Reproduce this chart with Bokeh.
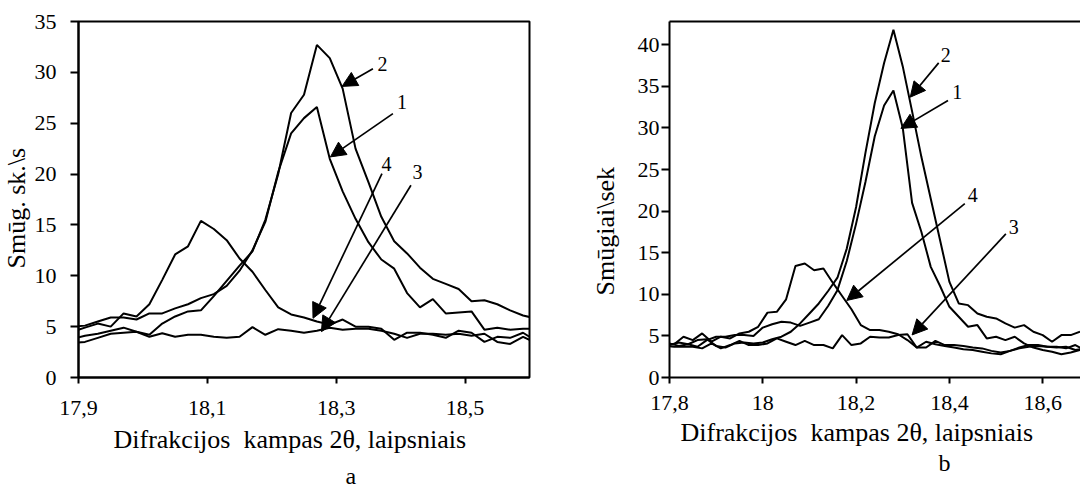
from bokeh.plotting import figure
from bokeh.layouts import row
from bokeh.models import FixedTicker, Label, Arrow, NormalHead, LinearAxis, Title
from bokeh.embed import file_html
from bokeh.resources import INLINE

FONT = "Liberation Serif"

# ---------------- chart a ----------------
xa = [17.89, 17.91, 17.93, 17.95, 17.97, 17.99, 18.01, 18.03, 18.05, 18.07,
      18.09, 18.11, 18.13, 18.15, 18.17, 18.19, 18.21, 18.23, 18.25, 18.27,
      18.29, 18.31, 18.33, 18.35, 18.37, 18.39, 18.41, 18.43, 18.45, 18.47,
      18.49, 18.51, 18.53, 18.55, 18.57, 18.59, 18.61]
a1 = [5.0, 5.1, 5.5, 5.9, 5.9, 5.7, 6.3, 6.3, 6.8, 7.2, 7.8, 8.2, 9.0, 10.5, 12.5,
      15.3, 20.2, 24.0, 25.5, 26.6, 21.5, 18.3, 15.6, 13.3, 11.6, 10.7, 8.3, 6.9,
      7.7, 6.3, 6.4, 6.5, 4.7, 4.9, 4.7, 4.8, 4.8]
a2 = [3.8, 4.1, 4.3, 4.6, 4.9, 4.5, 4.2, 5.3, 6.0, 6.5, 6.6, 8.0, 9.5, 11.0, 12.4,
      15.5, 20.0, 26.0, 27.8, 32.7, 31.4, 28.4, 22.5, 19.2, 15.8, 13.4, 12.2, 10.8,
      9.7, 9.2, 8.7, 7.5, 7.6, 7.2, 6.6, 6.1, 5.8]
a3 = [3.4, 3.5, 3.9, 4.3, 4.4, 4.5, 4.0, 4.35, 4.0, 4.2, 4.2, 4.0, 3.9, 4.0, 4.95,
      4.2, 4.75, 4.6, 4.4, 4.6, 4.9, 4.7, 4.8, 4.8, 4.6, 4.3, 3.9, 4.3, 4.3, 4.2,
      4.3, 4.1, 4.3, 3.5, 3.3, 4.0, 3.4]
a4 = [4.5, 4.9, 5.3, 5.0, 6.3, 6.0, 7.2, 9.6, 12.1, 12.9, 15.4, 14.6, 13.5, 11.7,
      10.4, 8.6, 6.9, 6.2, 5.9, 5.5, 5.2, 5.7, 5.0, 5.0, 4.8, 3.7, 4.4, 4.4, 4.2,
      3.9, 4.6, 4.4, 3.5, 4.0, 3.9, 4.4, 3.6]
xa_ticks = [17.9, 18.1, 18.3, 18.5]
xa_tick_labels = ["17,9", "18,1", "18,3", "18,5"]
ya_ticks = [0, 5, 10, 15, 20, 25, 30, 35]
a_ylabel = "Smūg. sk.\\s"
a_caption = "a"

# arrows: (label, label_x, label_y, x_start, y_start, x_end, y_end)
a_arrows = [
    ("2", 18.372, 30.85, 18.357, 30.35, 18.309, 28.62),
    ("1", 18.402, 27.08, 18.388, 25.94, 18.291, 21.69),
    ("4", 18.378, 21.03, 18.371, 20.05, 18.264, 5.82),
    ("3", 18.426, 20.20, 18.416, 18.90, 18.277, 4.51),
]

# ---------------- chart b ----------------
xb_even = [17.80, 17.82, 17.84, 17.86, 17.88, 17.90, 17.92, 17.94, 17.96, 17.98,
           18.00, 18.02, 18.04, 18.06, 18.08, 18.10, 18.12, 18.14, 18.16, 18.18,
           18.20, 18.22, 18.24, 18.26, 18.28, 18.30, 18.32, 18.34, 18.36, 18.38,
           18.40, 18.42, 18.44, 18.46, 18.48, 18.50, 18.52, 18.54, 18.56, 18.58,
           18.60, 18.62, 18.64, 18.66, 18.68]
xb_odd = [17.79, 17.81, 17.83, 17.85, 17.87, 17.89, 17.91, 17.93, 17.95, 17.97,
          17.99, 18.01, 18.03, 18.05, 18.07, 18.09, 18.11, 18.13, 18.15, 18.17,
          18.19, 18.21, 18.23, 18.25, 18.27, 18.29, 18.31, 18.33, 18.35, 18.37,
          18.39, 18.41, 18.43, 18.45, 18.47, 18.49, 18.51, 18.53, 18.55, 18.57,
          18.59, 18.61, 18.63, 18.65, 18.67, 18.69]
b1 = [4.1, 3.8, 4.0, 3.7, 4.5, 4.9, 4.9, 5.1, 5.1, 5.0, 6.0, 6.4, 6.7, 6.6, 6.2,
      6.6, 7.0, 8.6, 10.5, 14.0, 18.5, 23.5, 29.0, 32.7, 34.5, 30.0, 21.0, 17.5,
      13.3, 11.0, 8.5, 7.3, 6.1, 6.3, 4.7, 4.9, 4.5, 4.9, 4.1, 3.6, 3.3, 3.1, 2.8,
      3.0, 3.3]
b2 = [3.9, 4.2, 4.0, 4.5, 4.6, 3.8, 3.6, 4.1, 4.2, 4.1, 4.2, 4.6, 4.9, 5.5, 6.5,
      7.7, 8.9, 10.4, 12.0, 15.5, 20.5, 27.0, 33.0, 37.8, 41.8, 37.4, 32.0, 26.5,
      21.5, 16.5, 11.5, 8.9, 8.7, 7.7, 7.3, 7.1, 6.5, 6.0, 6.3, 5.5, 5.1, 4.3, 5.1,
      5.1, 5.5]
b3 = [3.8, 3.7, 3.7, 3.7, 3.5, 4.1, 3.5, 3.9, 4.4, 3.9, 3.9, 4.1, 4.7, 4.3, 3.9,
      4.4, 3.9, 3.9, 3.5, 5.1, 3.9, 4.1, 4.9, 4.8, 4.8, 5.1, 5.2, 3.6, 4.3, 4.0,
      3.8, 3.6, 3.4, 3.3, 3.1, 2.9, 2.8, 3.2, 3.6, 3.9, 3.9, 3.7, 3.7, 3.5, 3.9, 3.3]
b4 = [4.0, 4.0, 4.9, 4.5, 5.3, 4.3, 4.9, 4.7, 5.3, 5.5, 6.1, 7.8, 7.9, 9.4, 13.4,
      13.7, 12.9, 13.1, 11.4, 9.8, 8.2, 6.3, 5.7, 5.7, 5.5, 5.2, 4.5, 3.6, 3.6, 4.4,
      3.9, 3.9, 3.8, 3.6, 3.5, 3.2, 3.0, 3.2, 3.5, 3.7, 3.8, 3.7, 3.6, 3.7, 3.3, 3.5]
xb_ticks = [17.8, 18.0, 18.2, 18.4, 18.6]
xb_tick_labels = ["17,8", "18", "18,2", "18,4", "18,6"]
yb_ticks = [0, 5, 10, 15, 20, 25, 30, 35, 40]
b_ylabel = "Smūgiai\\sek"
b_caption = "b"

b_arrows = [
    ("2", 18.392, 38.8, 18.377, 37.83, 18.316, 33.7),
    ("1", 18.417, 34.3, 18.397, 33.3, 18.296, 29.95),
    ("4", 18.450, 21.9, 18.433, 20.9, 18.180, 9.26),
    ("3", 18.538, 18.1, 18.521, 17.26, 18.320, 5.12),
]

xtitle = "Difrakcijos\u00a0 kampas 2θ, laipsniais"

LW = 2.0


def style_axes(p, xticks, xlabels, yticks, y_standoff, x_standoff):
    p.grid.visible = False
    for ax in p.xaxis + p.yaxis:
        ax.axis_line_color = "black"
        ax.axis_line_width = 2
        ax.major_tick_line_color = "black"
        ax.major_tick_line_width = 2
        ax.major_tick_in = 0
        ax.minor_tick_line_color = None
        ax.major_label_text_font = FONT
        ax.major_label_text_font_size = "22px"
        ax.major_label_text_color = "black"
    p.xaxis.major_tick_out = 6
    p.yaxis.major_tick_out = 8
    p.xaxis.ticker = FixedTicker(ticks=xticks)
    p.xaxis.major_label_overrides = dict(zip(xticks, xlabels))
    p.xaxis.major_label_standoff = x_standoff
    p.yaxis.ticker = FixedTicker(ticks=yticks)
    p.yaxis.major_label_standoff = y_standoff


def add_arrows(p, arrows):
    for lab, lx, ly, xs, ys, xe, ye in arrows:
        p.add_layout(Arrow(x_start=xs, y_start=ys, x_end=xe, y_end=ye,
                           line_color="black", line_width=1.7,
                           end=NormalHead(size=15, fill_color="black",
                                          line_color="black", line_width=1)))
        p.add_layout(Label(x=lx, y=ly, text=lab, text_font=FONT,
                           text_font_size="20px", text_align="center",
                           text_baseline="middle", text_color="black"))


def side_title(p, text, side, size, align, offset, standoff, valign="middle"):
    p.add_layout(Title(text=text, align=align, offset=offset, standoff=standoff,
                       vertical_align=valign, text_font=FONT,
                       text_font_size=size, text_font_style="normal",
                       text_color="black"), side)


# ---- figure a ----
pa = figure(width=540, height=488, x_range=(17.9, 18.6), y_range=(0, 35),
            output_backend="svg", toolbar_location=None,
            min_border_left=77, min_border_right=11, min_border_top=21,
            min_border_bottom=110, background_fill_color="white",
            border_fill_color="white")
pa.outline_line_color = "black"
pa.outline_line_width = 2
style_axes(pa, xa_ticks, xa_tick_labels, ya_ticks, 14, 17)
for ys in (a1, a2, a3, a4):
    pa.line(xa, ys, line_color="black", line_width=LW)
add_arrows(pa, a_arrows)
side_title(pa, a_ylabel, "left", "26px", "left", 109, 0)
side_title(pa, xtitle, "below", "26px", "left", 35, 12)
side_title(pa, a_caption, "below", "24px", "left", 267, 0, "bottom")

# ---- figure b ----
pb = figure(width=540, height=488, x_range=(17.8, 18.681), y_range=(0, 42.8),
            output_backend="svg", toolbar_location=None,
            min_border_left=129, min_border_right=0, min_border_top=21,
            min_border_bottom=105, background_fill_color="white",
            border_fill_color="white")
pb.outline_line_color = None
style_axes(pb, xb_ticks, xb_tick_labels, yb_ticks, 2, 12)
top_axis = LinearAxis(ticker=FixedTicker(ticks=[]), axis_line_width=2,
                      axis_line_color="black", major_label_text_font_size="0px",
                      major_tick_line_color=None, minor_tick_line_color=None)
pb.add_layout(top_axis, "above")
pb.line(xb_even, b1, line_color="black", line_width=LW)
pb.line(xb_even, b2, line_color="black", line_width=LW)
pb.line(xb_odd, b3, line_color="black", line_width=LW)
pb.line(xb_odd, b4, line_color="black", line_width=LW)
add_arrows(pb, b_arrows)
side_title(pb, b_ylabel, "left", "26px", "left", 82, 27)
side_title(pb, xtitle, "below", "26px", "left", 11, 8)
side_title(pb, b_caption, "below", "24px", "left", 269, -6)

layout = row(pa, pb)
open("out.html", "w").write(file_html(layout, INLINE))
